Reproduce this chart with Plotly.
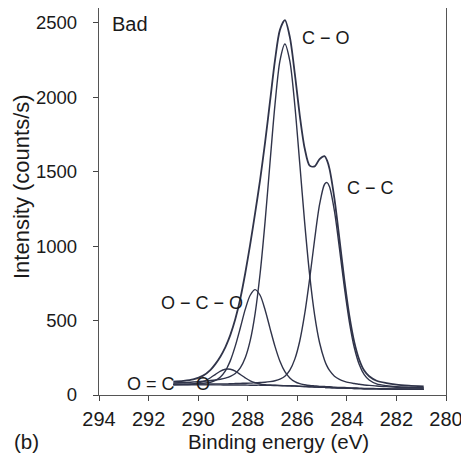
import plotly.graph_objects as go

# Binding energy grid (eV)
energy = [291.0, 290.6, 290.2, 289.8, 289.5, 289.3, 289.1, 288.9, 288.8, 288.7,
          288.5, 288.3, 288.1, 287.9, 287.7, 287.5, 287.3, 287.1, 286.9, 286.7,
          286.5, 286.3, 286.1, 285.9, 285.7, 285.5, 285.3, 285.1, 284.9, 284.8,
          284.7, 284.5, 284.3, 284.1, 283.9, 283.7, 283.5, 283.3, 283.1, 282.8,
          282.4, 282.0, 281.5, 280.9]

# Intensities (counts/s)
envelope = [90, 95, 105, 130, 169, 209, 259, 322, 361, 404,
            511, 647, 818, 1012, 1223, 1446, 1696, 1972, 2248, 2453,
            2518, 2404, 2159, 1879, 1656, 1541, 1536, 1585, 1605, 1576,
            1519, 1317, 1049, 772, 533, 355, 237, 164, 126, 96,
            80, 70, 63, 57]
c_o = [81, 84, 87, 92, 97, 101, 106, 113, 118, 125,
       145, 182, 250, 365, 549, 816, 1163, 1562, 1951, 2245,
       2358, 2243, 1947, 1555, 1155, 805, 537, 351, 234, 194,
       165, 126, 105, 92, 83, 77, 72, 67, 65, 60,
       56, 52, 50, 47]
c_c = [72, 72, 73, 73, 74, 75, 75, 75, 75, 76,
       77, 78, 79, 80, 82, 84, 86, 90, 96, 106,
       126, 167, 241, 363, 546, 782, 1046, 1280, 1416, 1427,
       1399, 1235, 987, 722, 492, 319, 205, 137, 101, 75,
       62, 55, 51, 47]
o_c_o = [72, 73, 75, 79, 86, 98, 121, 162, 194, 231,
         330, 450, 575, 670, 708, 670, 573, 448, 327, 227,
         157, 115, 90, 76, 69, 64, 61, 58, 57, 55,
         55, 52, 51, 50, 48, 47, 46, 44, 44, 43,
         42, 41, 40, 39]
o_eq_c_o = [69, 70, 74, 90, 116, 139, 161, 173, 175, 173,
            160, 138, 115, 95, 82, 74, 69, 67, 66, 64,
            63, 62, 61, 59, 57, 55, 54, 52, 51, 50,
            50, 48, 47, 46, 45, 44, 43, 42, 42, 41,
            40, 39, 39, 38]
background = [68, 68, 68, 68, 68, 68, 68, 67, 67, 67,
              67, 67, 67, 66, 66, 66, 65, 65, 64, 63,
              62, 61, 60, 58, 57, 55, 54, 52, 51, 50,
              50, 48, 47, 46, 45, 44, 43, 42, 42, 41,
              40, 39, 39, 38]

x_ticks = [294, 292, 290, 288, 286, 284, 282, 280]
y_ticks = [0, 500, 1000, 1500, 2000, 2500]

FONT = "Liberation Sans, Arial, sans-serif"
LINE = "#30344a"
TXT = "#1a1a1a"

fig = go.Figure()
for name, ys, w in [("background", background, 1.4),
                    ("O=C-O", o_eq_c_o, 1.4),
                    ("O-C-O", o_c_o, 1.4),
                    ("C-C", c_c, 1.4),
                    ("C-O", c_o, 1.4),
                    ("envelope", envelope, 1.8)]:
    fig.add_trace(go.Scatter(x=energy, y=ys, mode="lines", name=name,
                             line=dict(color=LINE, width=w, shape="spline", smoothing=0.8),
                             showlegend=False, hoverinfo="skip"))

# page has an 8 px body margin: plot area spans window x 99..446, y 8..395
def px(xw):
    return (xw - 99) / 347

def py(yw):
    return (395 - yw) / 387

ann_font = dict(family=FONT, size=18, color=TXT)
annotations = [
    dict(text="Bad", xref="paper", yref="paper", x=px(110), y=py(24),
         xanchor="left", yanchor="middle", showarrow=False,
         font=dict(family=FONT, size=20, color=TXT)),
    dict(text="C \u2212 O", xref="x", yref="y", x=284.84, y=2396,
         showarrow=False, font=ann_font),
    dict(text="C \u2212 C", xref="x", yref="y", x=283.05, y=1391,
         showarrow=False, font=ann_font),
    dict(text="O \u2212 C \u2212 O", xref="x", yref="y", x=289.84, y=620,
         showarrow=False, font=ann_font),
    dict(text="O = C", xref="x", yref="y", x=291.92, y=74,
         showarrow=False, font=ann_font),
    dict(text="O", xref="x", yref="y", x=289.80, y=74,
         showarrow=False, font=ann_font),
    dict(text="Intensity (counts/s)", xref="paper", yref="paper",
         x=px(21), y=py(187), textangle=-90,
         xanchor="center", yanchor="middle", showarrow=False,
         font=dict(family=FONT, size=22, color=TXT)),
    dict(text="Binding energy (eV)", xref="paper", yref="paper",
         x=px(278), y=py(442),
         xanchor="center", yanchor="middle", showarrow=False,
         font=dict(family=FONT, size=20.5, color=TXT)),
    dict(text="(b)", xref="paper", yref="paper",
         x=px(12), y=py(442),
         xanchor="left", yanchor="middle", showarrow=False,
         font=dict(family=FONT, size=20.5, color=TXT)),
]

fig.update_layout(
    width=461, height=451,
    margin=dict(l=91, r=23, t=0, b=64),
    paper_bgcolor="white", plot_bgcolor="white",
    font=dict(family=FONT, size=18, color=TXT),
    annotations=annotations,
)
fig.update_xaxes(range=[294, 280], tickvals=x_ticks, ticks="outside", ticklen=5,
                 tickwidth=1.3, tickcolor="#444", showline=True, linecolor="#555",
                 linewidth=1.4, mirror=True, showgrid=False, zeroline=False,
                 ticklabelstandoff=1,
                 tickfont=dict(family=FONT, size=20, color=TXT))
fig.update_yaxes(range=[0, 2600], tickvals=y_ticks, ticks="outside", ticklen=5,
                 tickwidth=1.3, tickcolor="#444", showline=True, linecolor="#555",
                 linewidth=1.4, mirror=True, showgrid=False, zeroline=False,
                 ticklabelstandoff=12,
                 tickfont=dict(family=FONT, size=18.5, color=TXT))

fig.write_html("out.html")
